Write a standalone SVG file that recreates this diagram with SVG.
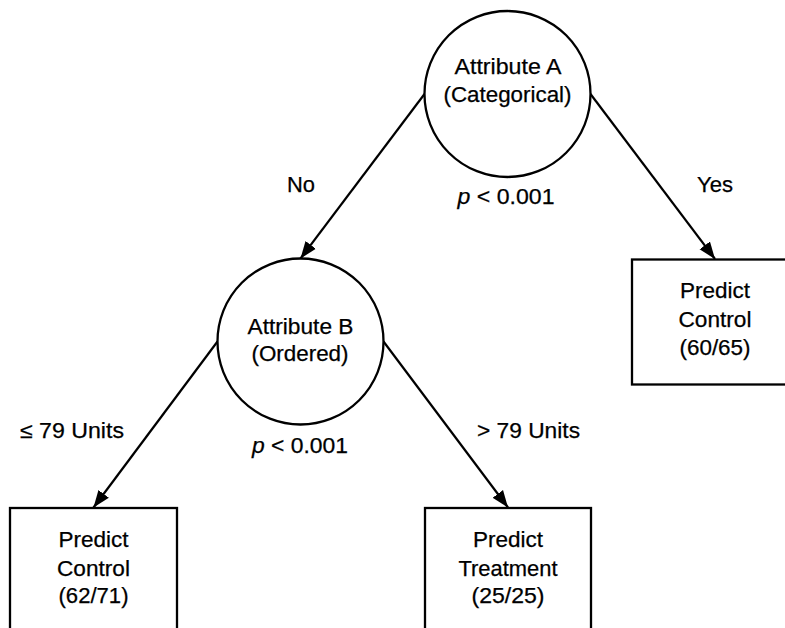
<svg xmlns="http://www.w3.org/2000/svg" width="785" height="628" viewBox="0 0 785 628">
<style>
.n{fill:#fff;stroke:#000;stroke-width:2.3}
.t{font-family:"Liberation Sans",Arial,sans-serif;font-size:21.5px;fill:#000;text-anchor:middle;stroke:#000;stroke-width:0.25}
.c{stroke:#000;stroke-width:2.2;fill:none;marker-end:url(#ah)}
</style>
<defs>
<marker id="ah" markerUnits="userSpaceOnUse" markerWidth="19" markerHeight="14" refX="17" refY="7" orient="auto">
<path d="M0,0.5 L17,7 L0,13.5 Z" fill="#000"/>
</marker>
</defs>
<rect width="785" height="628" fill="#fff"/>
<g id="connectors">
<line class="c" x1="424.5" y1="94" x2="300.5" y2="258.5"/>
<line class="c" x1="590.5" y1="94" x2="715" y2="259"/>
<line class="c" x1="217.5" y1="341.5" x2="93.5" y2="507.5"/>
<line class="c" x1="383.5" y1="341.5" x2="508" y2="507.5"/>
<text class="t" x="301" y="192" textLength="28" lengthAdjust="spacingAndGlyphs">No</text>
<text class="t" x="715" y="192" textLength="36" lengthAdjust="spacingAndGlyphs">Yes</text>
<text class="t" x="72" y="438" textLength="104" lengthAdjust="spacingAndGlyphs">≤ 79 Units</text>
<text class="t" x="528.5" y="438" textLength="103" lengthAdjust="spacingAndGlyphs">&gt; 79 Units</text>
</g>
<g id="attrA">
<circle class="n" cx="507.5" cy="94" r="83"/>
<text class="t" x="508" y="74" textLength="107" lengthAdjust="spacingAndGlyphs">Attribute A</text>
<text class="t" x="507.5" y="101.5" textLength="128" lengthAdjust="spacingAndGlyphs">(Categorical)</text>
<text class="t" x="506" y="204" textLength="97" lengthAdjust="spacingAndGlyphs"><tspan font-style="italic">p</tspan> &lt; 0.001</text>
</g>
<g id="attrB">
<circle class="n" cx="300.5" cy="341.5" r="83"/>
<text class="t" x="300.5" y="334" textLength="106" lengthAdjust="spacingAndGlyphs">Attribute B</text>
<text class="t" x="300" y="361" textLength="97" lengthAdjust="spacingAndGlyphs">(Ordered)</text>
<text class="t" x="300" y="453" textLength="96" lengthAdjust="spacingAndGlyphs"><tspan font-style="italic">p</tspan> &lt; 0.001</text>
</g>
<g id="yesLeaf">
<rect class="n" x="632" y="259.5" width="166" height="125"/>
<text class="t" x="715" y="298" textLength="70" lengthAdjust="spacingAndGlyphs">Predict</text>
<text class="t" x="715" y="326.5" textLength="73" lengthAdjust="spacingAndGlyphs">Control</text>
<text class="t" x="715" y="355" textLength="71" lengthAdjust="spacingAndGlyphs">(60/65)</text>
</g>
<g id="leLeaf">
<rect class="n" x="10" y="508" width="167" height="125"/>
<text class="t" x="93.5" y="547" textLength="70" lengthAdjust="spacingAndGlyphs">Predict</text>
<text class="t" x="93.5" y="575.5" textLength="73" lengthAdjust="spacingAndGlyphs">Control</text>
<text class="t" x="93.5" y="603" textLength="70" lengthAdjust="spacingAndGlyphs">(62/71)</text>
</g>
<g id="gtLeaf">
<rect class="n" x="425" y="508" width="166" height="125"/>
<text class="t" x="508" y="547" textLength="70" lengthAdjust="spacingAndGlyphs">Predict</text>
<text class="t" x="508" y="575.5" textLength="99" lengthAdjust="spacingAndGlyphs">Treatment</text>
<text class="t" x="508" y="603" textLength="73" lengthAdjust="spacingAndGlyphs">(25/25)</text>
</g>
</svg>
